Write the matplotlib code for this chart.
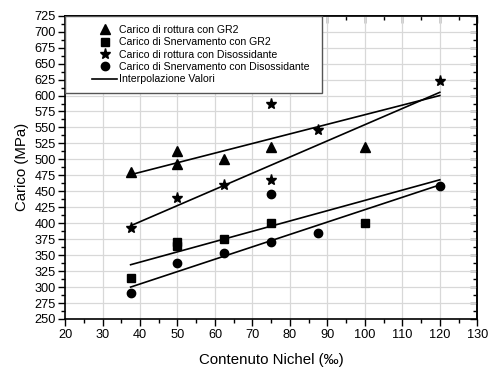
import matplotlib
matplotlib.use("Agg")
import matplotlib.pyplot as plt
from matplotlib.patches import Rectangle
from matplotlib.ticker import MultipleLocator

plt.rcParams['font.family'] = ['Liberation Sans', 'DejaVu Sans']

# dati
nichel_rott_gr2 = [37.5, 50, 50, 62.5, 75, 100]
rott_gr2 = [480, 513, 492, 501, 520, 520]

nichel_snerv_gr2 = [37.5, 50, 50, 62.5, 75, 100]
snerv_gr2 = [314, 370, 364, 375, 400, 400]

nichel_rott_dis = [37.5, 50, 62.5, 75, 75, 87.5, 120]
rott_dis = [393, 440, 460, 586, 467, 546, 623]

nichel_snerv_dis = [37.5, 50, 62.5, 75, 75, 87.5, 120]
snerv_dis = [290, 337, 353, 445, 370, 384, 459]

# rette di interpolazione (estremi)
interp_x = [37.5, 120]
interp_rott_gr2 = [476, 600]
interp_snerv_gr2 = [335, 468]
interp_rott_dis = [396, 605]
interp_snerv_dis = [300, 460]

fig = plt.figure(figsize=(4.9, 3.67), dpi=100)
ax = fig.add_axes([0.1327, 0.1308, 0.8414, 0.8264])

lw = 1.2
ax.plot(interp_x, interp_rott_gr2, color='black', lw=lw, label='Interpolazione Valori', zorder=3)
ax.plot(interp_x, interp_snerv_gr2, color='black', lw=lw, zorder=3)
ax.plot(interp_x, interp_rott_dis, color='black', lw=lw, zorder=3)
ax.plot(interp_x, interp_snerv_dis, color='black', lw=lw, zorder=3)

ax.plot(nichel_rott_gr2, rott_gr2, '^', color='black', ms=7, ls='none',
        label='Carico di rottura con GR2', zorder=4)
ax.plot(nichel_snerv_gr2, snerv_gr2, 's', color='black', ms=5.5, ls='none',
        label='Carico di Snervamento con GR2', zorder=4)
ax.plot(nichel_rott_dis, rott_dis, '*', color='black', ms=8, ls='none',
        label='Carico di rottura con Disossidante', zorder=4)
ax.plot(nichel_snerv_dis, snerv_dis, 'o', color='black', ms=6, ls='none',
        label='Carico di Snervamento con Disossidante', zorder=4)

ax.set_xlim(20, 130)
ax.set_ylim(250, 725)
ax.xaxis.set_major_locator(MultipleLocator(10))
ax.xaxis.set_minor_locator(MultipleLocator(5))
ax.yaxis.set_major_locator(MultipleLocator(25))
ax.yaxis.set_minor_locator(MultipleLocator(12.5))

ax.grid(True, which='major', color='#d8d8d8', lw=0.9, zorder=0)
ax.set_axisbelow(True)

ax.tick_params(axis='both', which='major', direction='out', length=5, width=1,
               labelsize=9.2, pad=1.5, colors='black')
ax.tick_params(axis='x', which='major', pad=2.5)
ax.tick_params(axis='both', which='minor', direction='out', length=3, width=1)

# tacche interne in alto e a destra
top = ax.secondary_xaxis('top')
top.xaxis.set_major_locator(MultipleLocator(10))
top.xaxis.set_minor_locator(MultipleLocator(5))
top.tick_params(which='major', direction='in', length=5, width=1, labeltop=False)
top.tick_params(which='minor', direction='in', length=3, width=1)
right = ax.secondary_yaxis('right')
right.yaxis.set_major_locator(MultipleLocator(25))
right.yaxis.set_minor_locator(MultipleLocator(12.5))
right.tick_params(which='major', direction='in', length=5, width=1, labelright=False)
right.tick_params(which='minor', direction='in', length=3, width=1)

for s in list(ax.spines.values()) + list(top.spines.values()) + list(right.spines.values()):
    s.set_linewidth(1.2)

ax.set_xlabel('Contenuto Nichel (‰)', fontsize=10.8, labelpad=8)
ax.set_ylabel('Carico (MPa)', fontsize=10.8, labelpad=4)

# cornice legenda
frame = Rectangle((0, 0.746), 0.6226, 0.254, transform=ax.transAxes,
                  facecolor='white', edgecolor='#555555', lw=1.0, zorder=5)
ax.add_patch(frame)

handles, labels = ax.get_legend_handles_labels()
order = [1, 2, 3, 4, 0]
leg = ax.legend([handles[i] for i in order], [labels[i] for i in order],
                loc='upper left', bbox_to_anchor=(0.061, 0.976), frameon=False,
                fontsize=7.6, handlelength=2.36, handletextpad=0.2, labelspacing=0.22,
                borderpad=0.2, borderaxespad=0)
leg.set_zorder(6)

fig.savefig('out.png', dpi=100)
